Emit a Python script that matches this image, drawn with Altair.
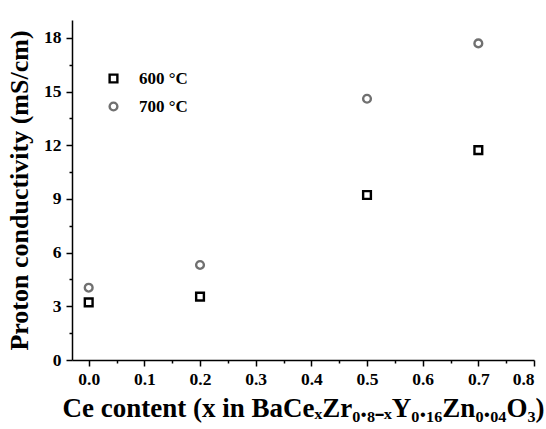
import altair as alt
import pandas as pd

# Data
ce_content = [0.0, 0.2, 0.5, 0.7]
cond_600 = [3.22, 3.54, 9.22, 11.73]
cond_700 = [4.04, 5.31, 14.60, 17.69]
series_labels = ["600 °C", "700 °C"]

x_ticks = [round(i * 0.05, 2) for i in range(17)]
y_ticks = [i * 1.5 for i in range(13)]

rows = []
for xv, a, b in zip(ce_content, cond_600, cond_700):
    rows.append({"x": xv, "y": a, "T": series_labels[0]})
    rows.append({"x": xv, "y": b, "T": series_labels[1]})
df = pd.DataFrame(rows)

FONT = "Liberation Serif"

x_title = "Ce content (x in BaCeₓZr₀.₈₋ₓY₀.₁₆Zn₀.₀₄O₃)"

chart = alt.Chart(df).mark_point(filled=False, strokeWidth=2.4, size=60, opacity=1).encode(
    x=alt.X(
        "x:Q",
        scale=alt.Scale(domain=[-0.03, 0.8], nice=False, zero=False),
        axis=alt.Axis(
            title=x_title,
            values=x_ticks,
            labelExpr="abs(datum.value*10 - round(datum.value*10)) < 0.01 ? format(datum.value, '.1f') : ''",
            tickSize={"condition": {"test": "abs(datum.value*10 - round(datum.value*10)) > 0.01", "value": 3}, "value": 6},
            grid=False,
            labelPadding=4,
            labelFontSize=17.5,
            titlePadding=8,
            titleFontSize=27,
        ),
    ),
    y=alt.Y(
        "y:Q",
        scale=alt.Scale(domain=[0, 19], nice=False, zero=True),
        axis=alt.Axis(
            title="Proton conductivity (mS/cm)",
            values=y_ticks,
            labelExpr="datum.value % 3 == 0 ? format(datum.value, 'd') : ''",
            tickSize={"condition": {"test": "datum.value % 3 != 0", "value": 3}, "value": 6},
            grid=False,
            labelPadding=5,
            labelFontSize=17.5,
            titlePadding=11,
            titleFontSize=26,
        ),
    ),
    shape=alt.Shape(
        "T:N",
        scale=alt.Scale(domain=series_labels, range=["square", "circle"]),
        legend=alt.Legend(
            title=None,
            orient="none",
            legendX=33,
            legendY=50,
            padding=0,
            rowPadding=9,
            symbolSize=60,
            symbolStrokeWidth=2.4,
            labelOffset=17,
            labelFont=FONT,
            labelFontSize=17,
            labelFontWeight="bold",
            labelColor="black",
        ),
    ),
    color=alt.Color(
        "T:N",
        scale=alt.Scale(domain=series_labels, range=["#000000", "#707070"]),
        legend=alt.Legend(title=None, orient="none", legendX=33, legendY=50),
    ),
).properties(
    width=462,
    height=340,
    autosize=alt.AutoSizeParams(type="none"),
    padding={"left": 72, "top": 20, "right": 12, "bottom": 69},
).configure_view(
    stroke=None
).configure_axis(
    domainColor="black",
    domainWidth=1.5,
    tickColor="black",
    tickWidth=1.5,
    labelFont=FONT,
    labelFontWeight="bold",
    labelColor="black",
    titleFont=FONT,
    titleFontWeight="bold",
    titleColor="black",
)

chart.save("out.html", embed_options={"renderer": "svg", "actions": False})
